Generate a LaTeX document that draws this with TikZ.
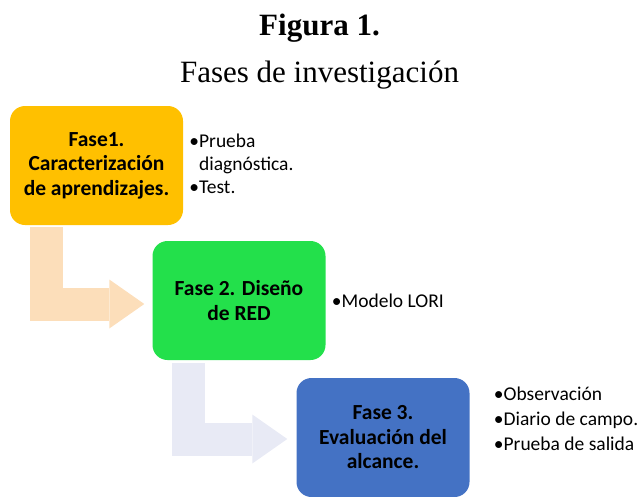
\documentclass[tikz,border=0pt]{standalone}
\usepackage{fontspec}
\setmainfont{Liberation Serif}
\newfontfamily\calibri{Carlito}
\usetikzlibrary{positioning, calc, arrows.meta}

\definecolor{faseuno}{HTML}{FFC000}
\definecolor{fasedos}{HTML}{23E04B}
\definecolor{fasetres}{HTML}{4472C4}
\definecolor{flechauno}{HTML}{FCDEBA}
\definecolor{flechados}{HTML}{E8EAF5}

\tikzset{
  fasebox/.style={rounded corners=15pt, minimum width=173pt, minimum height=119pt,
    inner sep=0pt, align=center, font=\calibri\bfseries\fontsize{21.5}{24.5}\selectfont},
  bulletlist/.style={align=left, inner sep=0pt, font=\calibri\fontsize{19.5}{23}\selectfont},
  bentarrow/.style={line width=33pt, -{Triangle[width=49pt, length=35pt, line width=0pt]}}
}

\begin{document}
\begin{tikzpicture}[x=1pt, y=-1pt]
  \useasboundingbox (0,0) rectangle (639,496);
  % titulo
  \node[font=\bfseries\fontsize{31}{37}\selectfont] (titulo) at (319.5,28) {Figura 1.};
  \node[font=\fontsize{31}{37}\selectfont] (subtitulo) at (319.5,75) {Fases de investigación};

  % fases
  \node[fasebox, fill=faseuno] (fase1) at (96.5,165.5) {Fase1.\\Caracterización\\de aprendizajes.};
  \node[fasebox, fill=fasedos] (fase2) at (239,300.5) {Fase 2. Diseño\\de RED};
  \node[fasebox, fill=fasetres] (fase3) at (383,437.5) {Fase 3.\\Evaluación del\\alcance.};

  % listas
  \node[bulletlist, right=6pt of fase1, yshift=2pt] (lista1)
    {•Prueba\\\hphantom{•}diagnóstica.\\•Test.};
  \node[bulletlist, right=6pt of fase2] (lista2) {•Modelo LORI};
  \node[bulletlist, right=24pt of fase3, yshift=19pt, font=\calibri\fontsize{19.5}{25}\selectfont] (lista3)
    {•Observación\\•Diario de campo.\\•Prueba de salida};

  % flechas
  \draw[bentarrow, flechauno] ($(fase1.south west)+(36.5,2)$) |- ($(fase2.west)+(-8,3.5)$);
  \draw[bentarrow, flechados] ($(fase2.south west)+(36,3)$) |- ($(fase3.west)+(-9,1.5)$);
\end{tikzpicture}
\end{document}
